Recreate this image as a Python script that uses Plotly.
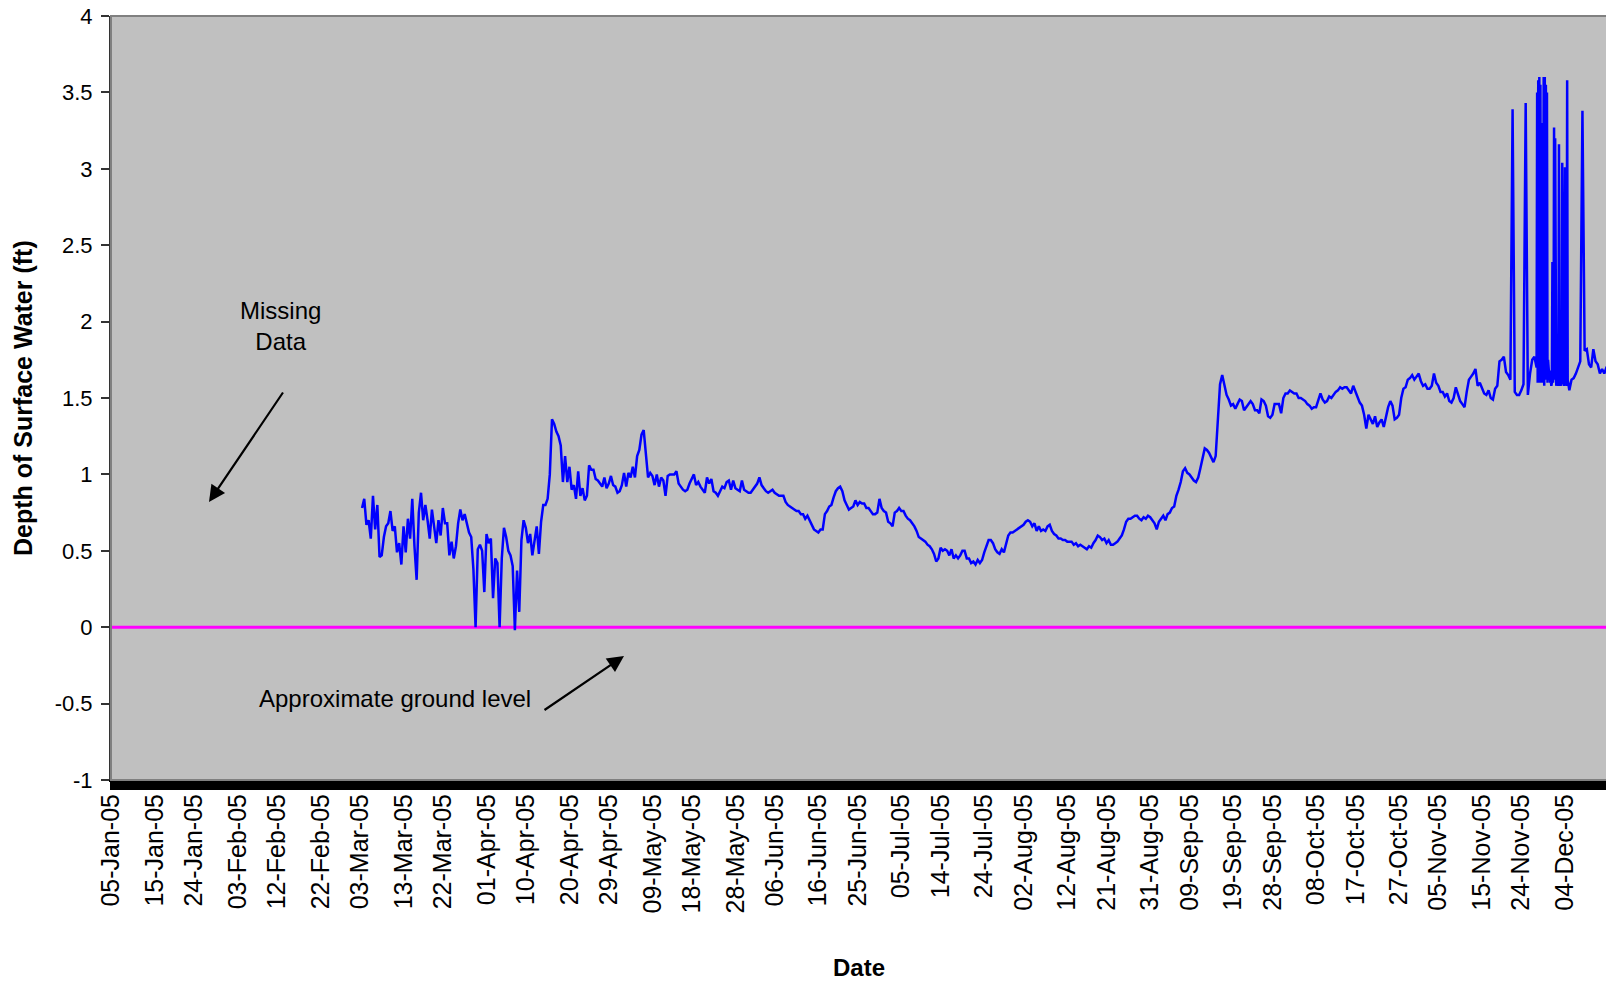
import pandas as pd
import plotly.graph_objects as go

# ---------------- data ----------------
tick_dates = ["2005-01-05", "2005-01-15", "2005-01-24", "2005-02-03", "2005-02-12", "2005-02-22",
              "2005-03-03", "2005-03-13", "2005-03-22", "2005-04-01", "2005-04-10", "2005-04-20",
              "2005-04-29", "2005-05-09", "2005-05-18", "2005-05-28", "2005-06-06", "2005-06-16",
              "2005-06-25", "2005-07-05", "2005-07-14", "2005-07-24", "2005-08-02", "2005-08-12",
              "2005-08-21", "2005-08-31", "2005-09-09", "2005-09-19", "2005-09-28", "2005-10-08",
              "2005-10-17", "2005-10-27", "2005-11-05", "2005-11-15", "2005-11-24", "2005-12-04"]

# 12-hourly readings (ft), starting 2005-03-03 12:00
depth_mar_apr = [0.78, 0.84, 0.67, 0.70, 0.58, 0.86, 0.64, 0.80, 0.46, 0.47,
                 0.59, 0.66, 0.68, 0.76, 0.63, 0.66, 0.49, 0.55, 0.41, 0.66,
                 0.49, 0.71, 0.58, 0.84, 0.53, 0.31, 0.75, 0.88, 0.70, 0.80,
                 0.70, 0.58, 0.77, 0.67, 0.55, 0.70, 0.60, 0.78, 0.68, 0.68,
                 0.47, 0.56, 0.45, 0.53, 0.68, 0.77, 0.70, 0.74, 0.68, 0.62,
                 0.59, 0.38, 0.00, 0.51, 0.54, 0.50, 0.23, 0.61, 0.55, 0.58,
                 0.19, 0.45, 0.42, 0.00, 0.45, 0.65, 0.59, 0.50, 0.47, 0.40,
                 -0.02, 0.37, 0.10, 0.57, 0.70, 0.65, 0.55, 0.61, 0.47, 0.56,
                 0.66, 0.48, 0.69, 0.80, 0.80, 0.84, 1.00, 1.36, 1.33, 1.28,
                 1.25, 1.19, 0.95, 1.12, 0.95, 1.05, 0.90]
depth_apr_jun = [0.93, 0.84, 1.02, 0.86, 0.91, 0.83, 0.86, 1.06, 1.03, 1.03,
                 0.97, 0.96, 0.94, 0.92, 0.98, 0.91, 0.94, 0.99, 0.93, 0.92,
                 0.88, 0.89, 0.93, 1.01, 0.92, 1.01, 0.98, 1.05, 0.98, 1.12,
                 1.16, 1.26, 1.29, 1.15, 0.98, 1.01, 0.99, 0.93, 1.00, 0.92,
                 0.98, 0.96, 0.86, 0.99, 1.00, 1.00, 1.00, 1.02, 0.94, 0.92,
                 0.90, 0.89, 0.90, 0.94, 0.97, 1.00, 0.93, 0.95, 0.92, 0.90,
                 0.88, 0.98, 0.94, 0.97, 0.89, 0.88, 0.86, 0.89, 0.92, 0.91,
                 0.95, 0.96, 0.90, 0.96, 0.91, 0.90, 0.89, 0.96, 0.90, 0.89,
                 0.88, 0.88, 0.90, 0.92, 0.94, 0.98, 0.93, 0.91, 0.89, 0.88,
                 0.89, 0.90, 0.88, 0.87, 0.86, 0.86, 0.86, 0.82, 0.80, 0.79,
                 0.78, 0.77, 0.76, 0.76, 0.74]
depth_jun_aug = [0.74, 0.71, 0.73, 0.70, 0.66, 0.64, 0.63, 0.62, 0.64, 0.64,
                 0.74, 0.76, 0.79, 0.80, 0.85, 0.89, 0.91, 0.92, 0.89, 0.83,
                 0.80, 0.77, 0.78, 0.79, 0.83, 0.80, 0.82, 0.81, 0.81, 0.78,
                 0.78, 0.76, 0.74, 0.74, 0.75, 0.84, 0.78, 0.76, 0.75, 0.69,
                 0.68, 0.66, 0.75, 0.76, 0.78, 0.76, 0.76, 0.73, 0.71, 0.70,
                 0.68, 0.66, 0.63, 0.59, 0.58, 0.57, 0.56, 0.54, 0.53, 0.51,
                 0.48, 0.43, 0.45, 0.52, 0.50, 0.51, 0.50, 0.47, 0.51, 0.45,
                 0.47, 0.45, 0.47, 0.50, 0.50, 0.45, 0.45, 0.42, 0.43, 0.41,
                 0.44, 0.42, 0.44, 0.49, 0.53, 0.57, 0.57, 0.55, 0.51, 0.49,
                 0.48, 0.51, 0.49, 0.55, 0.60, 0.62, 0.62, 0.63, 0.64, 0.65,
                 0.66, 0.67, 0.69, 0.70, 0.69]
depth_aug_oct = [0.66, 0.68, 0.63, 0.66, 0.63, 0.64, 0.63, 0.66, 0.67, 0.63,
                 0.61, 0.60, 0.58, 0.58, 0.57, 0.57, 0.56, 0.56, 0.56, 0.54,
                 0.55, 0.53, 0.54, 0.53, 0.52, 0.51, 0.53, 0.52, 0.55, 0.57,
                 0.60, 0.59, 0.57, 0.58, 0.55, 0.57, 0.54, 0.54, 0.55, 0.56,
                 0.58, 0.60, 0.64, 0.69, 0.71, 0.71, 0.72, 0.73, 0.73, 0.71,
                 0.70, 0.72, 0.71, 0.73, 0.72, 0.70, 0.68, 0.64, 0.69, 0.71,
                 0.73, 0.70, 0.74, 0.75, 0.78, 0.79, 0.86, 0.90, 0.95, 1.02,
                 1.04, 1.01, 1.00, 0.98, 0.96, 0.95, 0.98, 1.04, 1.11, 1.17,
                 1.16, 1.14, 1.11, 1.08, 1.12, 1.35, 1.59, 1.65, 1.58, 1.52,
                 1.49, 1.45, 1.46, 1.43, 1.46, 1.49, 1.48, 1.42, 1.44, 1.46,
                 1.48, 1.46, 1.42, 1.42, 1.40]
depth_oct_nov = [1.49, 1.48, 1.45, 1.38, 1.37, 1.39, 1.46, 1.46, 1.46, 1.40,
                 1.50, 1.53, 1.53, 1.55, 1.54, 1.53, 1.53, 1.50, 1.50, 1.49,
                 1.48, 1.46, 1.45, 1.43, 1.44, 1.44, 1.48, 1.53, 1.49, 1.47,
                 1.48, 1.51, 1.50, 1.52, 1.54, 1.55, 1.57, 1.56, 1.57, 1.57,
                 1.55, 1.53, 1.58, 1.54, 1.50, 1.47, 1.45, 1.39, 1.30, 1.39,
                 1.36, 1.33, 1.38, 1.31, 1.34, 1.36, 1.31, 1.38, 1.44, 1.48,
                 1.45, 1.36, 1.37, 1.39, 1.50, 1.56, 1.57, 1.62, 1.63, 1.65,
                 1.62, 1.64, 1.66, 1.61, 1.58, 1.59, 1.56, 1.56, 1.58, 1.66,
                 1.60, 1.58, 1.54, 1.54, 1.51, 1.53, 1.48, 1.47, 1.50, 1.57,
                 1.52, 1.48, 1.46, 1.44, 1.54, 1.62, 1.64, 1.66, 1.69, 1.58,
                 1.60, 1.57, 1.53, 1.52, 1.55, 1.50, 1.49, 1.56, 1.58, 1.74,
                 1.75, 1.77, 1.67, 1.65, 1.62, 3.39, 1.54, 1.52, 1.52, 1.55,
                 1.59, 3.43, 1.52, 1.66, 1.75, 1.77, 1.70]
start_12h = "2005-03-03 12:00"

# 3-hourly readings (ft) during the spiky period, starting 2005-11-27 15:00
depth_spikes = [3.50, 1.60, 3.58, 1.65, 3.60, 1.60, 3.55, 1.70, 3.16, 1.60,
                3.30, 1.65, 3.60, 1.58, 3.60, 1.62, 3.55, 1.70, 3.50, 1.60,
                1.75, 1.70, 1.65, 1.68, 1.60, 1.62, 1.58, 1.60, 2.39, 1.60,
                1.65, 3.27, 1.62, 3.20, 1.60, 1.58, 1.60, 1.62, 1.60, 1.58,
                3.16, 1.60, 1.62, 1.58, 1.60, 1.62, 3.04, 1.62, 1.60, 1.58,
                1.60, 3.01, 1.62, 1.60, 1.58, 3.58, 1.62, 1.58, 1.55, 1.55]
start_3h = "2005-11-27 15:00"

# 12-hourly readings (ft), starting 2005-12-05 12:00
depth_dec = [1.62, 1.63, 1.66, 1.70, 1.74, 3.38, 1.81, 1.82, 1.72, 1.70,
             1.82, 1.74, 1.72, 1.66, 1.69, 1.66, 1.70, 1.72]
start_dec = "2005-12-05 12:00"

ground_level = 0.0
x_range = ["2005-01-05", "2005-12-14 02:00"]
y_ticks = [4, 3.5, 3, 2.5, 2, 1.5, 1, 0.5, 0, -0.5, -1]

# ---------------- build series ----------------
vals_12h = depth_mar_apr + depth_apr_jun + depth_jun_aug + depth_aug_oct + depth_oct_nov
t1 = pd.date_range(start_12h, periods=len(vals_12h), freq="12h")
t2 = pd.date_range(start_3h, periods=len(depth_spikes), freq="3h")
t3 = pd.date_range(start_dec, periods=len(depth_dec), freq="12h")
times = list(t1) + list(t2) + list(t3)
depth = vals_12h + depth_spikes + depth_dec

FONT = "Liberation Sans, Arial, sans-serif"

fig = go.Figure()
fig.add_trace(go.Scatter(x=x_range, y=[ground_level, ground_level], mode="lines",
                         line=dict(color="#FF00FF", width=3), hoverinfo="skip", showlegend=False))
fig.add_trace(go.Scatter(x=times, y=depth, mode="lines",
                         line=dict(color="#0000FF", width=2.5), showlegend=False))

# The page body has an 8px default margin, so the figure is sized to fit inside it.
OFF = 8
W, H = 1605, 974
L, R, T, B = 103, 4, 8, 202
pw, ph = W - L - R, H - T - B


def px(x):  # page pixel -> paper x
    return (x - OFF - L) / pw


def py(y):  # page pixel -> paper y
    return (H - B - (y - OFF)) / ph


txt = dict(xref="paper", yref="paper", showarrow=False, xanchor="center", yanchor="middle")
annos = [
    dict(text="Missing<br>Data", x=px(280), y=py(326), align="center",
         font=dict(size=24, color="black", family=FONT), **txt),
    dict(text="Approximate ground level", x=px(395), y=py(698),
         font=dict(size=24, color="black", family=FONT), **txt),
    dict(text="", x=px(209), y=py(502), xref="paper", yref="paper", showarrow=True,
         ax=75, ay=-111, arrowhead=2, arrowsize=1.5, arrowwidth=2.2, arrowcolor="black"),
    dict(text="", x=px(624), y=py(656), xref="paper", yref="paper", showarrow=True,
         ax=-81, ay=55, arrowhead=2, arrowsize=1.5, arrowwidth=2.2, arrowcolor="black"),
    dict(text="<b>Depth of Surface Water (ft)</b>", x=px(23), y=0.5, textangle=-90,
         font=dict(size=25, color="black", family=FONT), **txt),
    dict(text="<b>Date</b>", x=px(859), y=py(967),
         font=dict(size=24, color="black", family=FONT), **txt),
]

fig.update_layout(
    width=W, height=H,
    margin=dict(l=L, r=R, t=T, b=B, pad=0, autoexpand=False),
    paper_bgcolor="white",
    plot_bgcolor="#C0C0C0",
    font=dict(family=FONT, size=24, color="black"),
    annotations=annos,
    shapes=[dict(type="rect", xref="paper", yref="paper", x0=0, y0=0, x1=1, y1=1,
                 line=dict(color="#808080", width=2), layer="above")],
)
fig.update_xaxes(
    type="date", range=x_range, automargin=False, ticklabeloverflow="allow",
    tickmode="array", tickvals=tick_dates, tickformat="%d-%b-%y", tickangle=-90,
    ticks="outside", ticklen=8, tickwidth=2, tickcolor="black", ticklabelstandoff=-6,
    showgrid=False, zeroline=False, showline=True, linecolor="black", linewidth=2,
    tickfont=dict(size=25, family=FONT, color="black"),
    minor=dict(ticks="outside", ticklen=8, tickwidth=2, tickcolor="black",
               dtick=6 * 3600 * 1000, tick0="2005-01-05", showgrid=False),
)
fig.update_yaxes(
    range=[-1, 4], automargin=False, ticklabeloverflow="allow",
    tickmode="array", tickvals=y_ticks, ticktext=[str(v) for v in y_ticks],
    ticks="outside", ticklen=8, tickwidth=1.5, tickcolor="#333333", ticklabelstandoff=4,
    showgrid=False, zeroline=False, showline=True, linecolor="#333333", linewidth=2,
    tickfont=dict(size=22, family=FONT, color="black"),
)

fig.write_html("out.html")
